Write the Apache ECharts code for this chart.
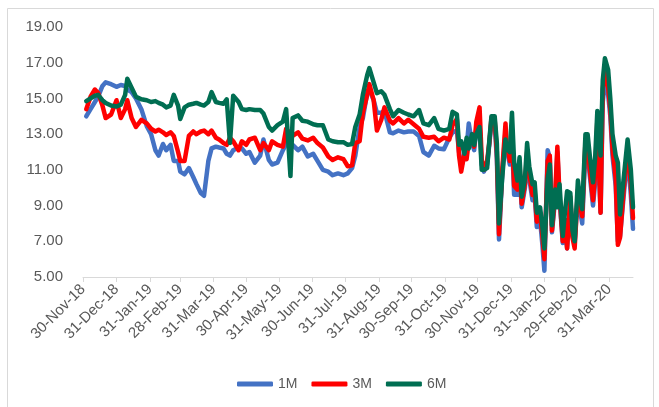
<!DOCTYPE html>
<html>
<head>
<meta charset="utf-8">
<script src="https://cdn.jsdelivr.net/npm/echarts@6/dist/echarts.min.js"></script>
<style>
  html, body { margin: 0; padding: 0; background: #ffffff; }
  #chart { width: 659px; height: 407px; }
</style>
</head>
<body>
<div id="chart"></div>
<script>
// Observation dates (shared by all tenors)
const dates = [
  '2018-12-03','2018-12-07','2018-12-11','2018-12-14','2018-12-18','2018-12-21','2018-12-26','2018-12-31',
  '2019-01-04','2019-01-08','2019-01-10','2019-01-14','2019-01-18','2019-01-23','2019-01-28',
  '2019-02-01','2019-02-05','2019-02-08','2019-02-12','2019-02-15','2019-02-19','2019-02-22','2019-02-26','2019-02-28',
  '2019-03-04','2019-03-08','2019-03-12','2019-03-15','2019-03-19','2019-03-22','2019-03-26','2019-03-29',
  '2019-04-02','2019-04-05','2019-04-09','2019-04-12','2019-04-15','2019-04-18','2019-04-23','2019-04-26','2019-04-30',
  '2019-05-03','2019-05-08','2019-05-13','2019-05-16','2019-05-21','2019-05-24','2019-05-29',
  '2019-06-03','2019-06-06','2019-06-10','2019-06-12','2019-06-17','2019-06-21','2019-06-26',
  '2019-07-01','2019-07-05','2019-07-10','2019-07-15','2019-07-19','2019-07-24','2019-07-29',
  '2019-08-02','2019-08-06','2019-08-09','2019-08-13','2019-08-16','2019-08-20','2019-08-22','2019-08-26','2019-08-29',
  '2019-09-02','2019-09-05','2019-09-10','2019-09-13','2019-09-18','2019-09-23','2019-09-27',
  '2019-10-02','2019-10-07','2019-10-11','2019-10-16','2019-10-21','2019-10-25','2019-10-30',
  '2019-11-04','2019-11-07','2019-11-11','2019-11-13','2019-11-15','2019-11-18','2019-11-20','2019-11-22','2019-11-25','2019-11-27','2019-11-29',
  '2019-12-02','2019-12-04','2019-12-06','2019-12-09','2019-12-11','2019-12-13','2019-12-16','2019-12-18','2019-12-20','2019-12-23','2019-12-26','2019-12-27','2019-12-30',
  '2020-01-01','2020-01-03','2020-01-06','2020-01-08','2020-01-10','2020-01-13','2020-01-15','2020-01-17','2020-01-20','2020-01-22','2020-01-24','2020-01-27','2020-01-29','2020-01-31',
  '2020-02-03','2020-02-05','2020-02-07','2020-02-10','2020-02-12','2020-02-14','2020-02-17','2020-02-19','2020-02-21','2020-02-24','2020-02-26','2020-02-28',
  '2020-03-02','2020-03-04','2020-03-06','2020-03-09','2020-03-11','2020-03-13','2020-03-16','2020-03-18','2020-03-20','2020-03-23','2020-03-25','2020-03-27','2020-03-30',
  '2020-04-01','2020-04-03','2020-04-06','2020-04-08','2020-04-10','2020-04-13','2020-04-15','2020-04-17','2020-04-20','2020-04-22'
];

// 1-month yield (%)
const rate1M = [
  14.0,14.4,14.8,15.1,15.7,15.9,15.8,15.65,
  15.75,15.7,15.5,15.35,15.0,14.4,13.45,
  13.0,12.1,11.8,12.45,12.1,12.4,11.5,11.5,10.9,
  10.75,11.1,10.6,10.2,9.7,9.55,11.5,12.2,
  12.3,12.25,12.2,11.9,11.8,12.1,12.25,12.2,11.9,
  12.0,11.4,11.8,12.7,11.55,11.3,11.4,
  12.1,12.45,12.4,12.4,12.1,12.3,11.75,
  11.9,11.5,11.0,10.9,10.7,10.8,10.7,
  10.8,11.1,11.8,13.4,13.9,15.3,15.5,14.9,14.2,
  14.2,14.3,13.1,13.05,13.2,13.1,13.15,
  13.15,12.9,12.0,11.8,12.35,12.2,12.15,
  12.8,13.1,13.2,12.0,11.2,11.7,12.2,13.6,12.5,12.1,13.3,
  13.6,11.3,10.9,11.3,12.4,13.7,13.6,11.6,7.1,10.8,13.2,12.2,11.3,
  12.7,9.6,9.6,11.0,8.9,10.0,11.7,10.5,9.3,9.6,7.8,8.2,6.9,5.35,
  12.1,11.7,7.5,9.4,12.0,9.4,6.9,8.0,6.6,9.3,7.3,6.9,
  9.7,8.7,8.0,12.2,12.0,10.7,9.0,10.3,13.4,8.6,14.8,15.9,15.2,
  14.0,11.8,10.1,7.0,7.3,9.3,10.6,11.8,9.6,7.7
];

// 3-month yield (%)
const rate3M = [
  14.4,15.1,15.5,15.3,14.6,13.9,14.1,14.9,
  13.9,14.4,14.9,13.9,13.4,13.8,13.6,
  13.3,13.15,13.25,13.1,12.95,13.1,12.9,12.0,11.5,
  11.5,12.9,13.15,13.0,13.15,13.2,13.0,13.2,
  12.8,12.7,12.5,12.4,12.8,12.6,12.1,12.6,12.4,
  12.7,12.8,12.1,12.5,12.1,12.6,12.4,
  12.3,13.3,13.0,12.9,13.1,12.75,12.65,
  12.8,12.5,12.25,11.75,11.55,11.7,11.6,
  11.2,11.25,12.5,12.6,14.2,15.2,15.8,14.9,13.2,
  13.8,14.5,13.75,13.6,13.9,13.6,13.8,
  13.55,13.3,12.85,12.8,12.85,12.6,12.8,
  12.7,13.5,13.85,11.8,10.9,11.9,11.6,12.6,12.7,12.3,13.7,
  14.5,11.6,11.0,11.5,12.5,13.9,13.8,12.0,7.4,11.0,13.6,12.5,11.5,
  13.0,10.1,9.9,11.3,9.1,10.2,12.0,10.8,9.6,9.8,8.1,8.5,7.4,6.0,
  11.5,11.8,7.6,9.6,12.3,9.6,7.0,8.2,6.6,9.5,7.2,6.6,
  9.9,9.0,8.4,12.6,12.4,11.0,9.3,10.8,13.8,8.6,15.5,16.6,15.6,
  14.4,12.2,10.5,6.8,7.2,9.6,11.0,12.2,10.2,8.3
];

// 6-month yield (%)
const rate6M = [
  14.85,15.0,15.15,15.2,14.9,14.75,14.6,14.55,
  14.65,15.2,16.1,15.6,15.1,14.95,14.9,
  14.8,14.85,14.75,14.65,14.5,14.6,15.2,14.6,13.85,
  14.5,14.65,14.7,14.75,14.65,14.6,14.8,15.35,
  14.8,14.75,14.7,14.95,12.5,15.15,14.8,14.4,14.35,
  14.4,14.35,14.35,14.15,13.4,13.2,13.5,
  13.7,14.4,10.65,13.9,14.05,13.75,13.7,
  13.55,13.5,13.5,12.7,12.6,12.55,12.55,
  12.4,12.45,13.4,14.1,15.2,16.3,16.7,15.9,15.3,
  15.4,15.2,14.4,14.0,14.35,14.2,14.1,
  14.0,14.35,13.6,13.5,13.9,13.3,13.2,
  13.3,14.25,14.1,12.4,12.6,11.9,12.8,12.2,13.0,12.4,13.0,
  13.4,11.0,11.0,11.1,12.6,14.0,14.0,12.5,8.0,10.6,12.7,12.2,12.0,
  14.2,11.4,10.4,11.7,9.5,10.5,12.5,11.2,10.2,10.3,8.6,8.9,7.9,6.6,
  10.5,11.3,7.9,9.9,8.9,10.2,7.3,8.6,9.8,9.7,7.6,7.0,
  10.4,9.4,8.8,13.0,13.0,11.8,10.3,11.7,14.3,11.8,16.0,17.25,16.6,
  15.0,13.0,11.8,11.4,8.5,10.3,11.5,12.7,11.0,8.9
];

// Month-end tick dates on the date axis
const tickDates = [
  '2018-11-30','2018-12-31','2019-01-31','2019-02-28','2019-03-31','2019-04-30',
  '2019-05-31','2019-06-30','2019-07-31','2019-08-31','2019-09-30','2019-10-31',
  '2019-11-30','2019-12-31','2020-01-31','2020-02-29','2020-03-31'
];
const axisStart = '2018-11-30';
const axisEnd = '2020-04-22';

const seriesNames = ['1M', '3M', '6M'];
const seriesColors = ['#4472C4', '#FF0000', '#006E52'];
const yTicks = { min: 5, max: 19, step: 2 };

const MONTHS = ['Jan','Feb','Mar','Apr','May','Jun','Jul','Aug','Sep','Oct','Nov','Dec'];
function toTime(s) {
  const p = s.split('-').map(Number);
  return new Date(p[0], p[1] - 1, p[2]).getTime();
}
function fmtDate(v) {
  const d = new Date(v);
  const dd = String(d.getDate()).padStart(2, '0');
  const yy = String(d.getFullYear() % 100).padStart(2, '0');
  return dd + '-' + MONTHS[d.getMonth()] + '-' + yy;
}

const tickTimes = tickDates.map(toTime);
const seriesValues = [rate1M, rate3M, rate6M];

const chart = echarts.init(document.getElementById('chart'), null, { renderer: 'canvas' });
const textColor = '#595959';
const fontFamily = '"Liberation Sans", Arial, sans-serif';

chart.setOption({
  animation: false,
  backgroundColor: '#ffffff',
  graphic: [{
    type: 'rect',
    shape: { x: 7.5, y: 8.5, width: 646, height: 420 },
    style: { fill: 'none', stroke: '#d9d9d9', lineWidth: 1 },
    silent: true
  }],
  grid: { left: 83, right: 26, top: 27, bottom: 130 },
  legend: {
    data: seriesNames,
    left: 232,
    top: 372,
    icon: 'roundRect',
    itemWidth: 36,
    itemHeight: 5,
    itemGap: 14,
    textStyle: { color: textColor, fontSize: 14, fontFamily: fontFamily }
  },
  xAxis: {
    type: 'value',
    min: toTime(axisStart),
    max: toTime(axisEnd),
    axisLine: { show: true, onZero: false, lineStyle: { color: '#d9d9d9', width: 1 } },
    axisTick: { show: true, length: 5, lineStyle: { color: '#d9d9d9' }, customValues: tickTimes },
    splitLine: { show: false },
    axisLabel: {
      customValues: tickTimes,
      formatter: v => fmtDate(v),
      rotate: 45,
      margin: 10,
      color: textColor,
      fontSize: 15,
      fontFamily: fontFamily,
      hideOverlap: false
    }
  },
  yAxis: {
    type: 'value',
    min: yTicks.min,
    max: yTicks.max,
    interval: yTicks.step,
    axisLine: { show: false },
    axisTick: { show: false },
    splitLine: { show: false },
    axisLabel: {
      formatter: v => v.toFixed(2),
      color: textColor,
      fontSize: 15,
      fontFamily: fontFamily,
      margin: 20
    }
  },
  series: seriesNames.map((name, i) => ({
    name: name,
    type: 'line',
    showSymbol: false,
    symbol: 'none',
    color: seriesColors[i],
    lineStyle: { width: 4.5, color: seriesColors[i], join: 'round', cap: 'round' },
    data: dates.map((d, k) => [toTime(d), seriesValues[i][k]]),
    z: 2 + i
  }))
});
</script>
</body>
</html>
